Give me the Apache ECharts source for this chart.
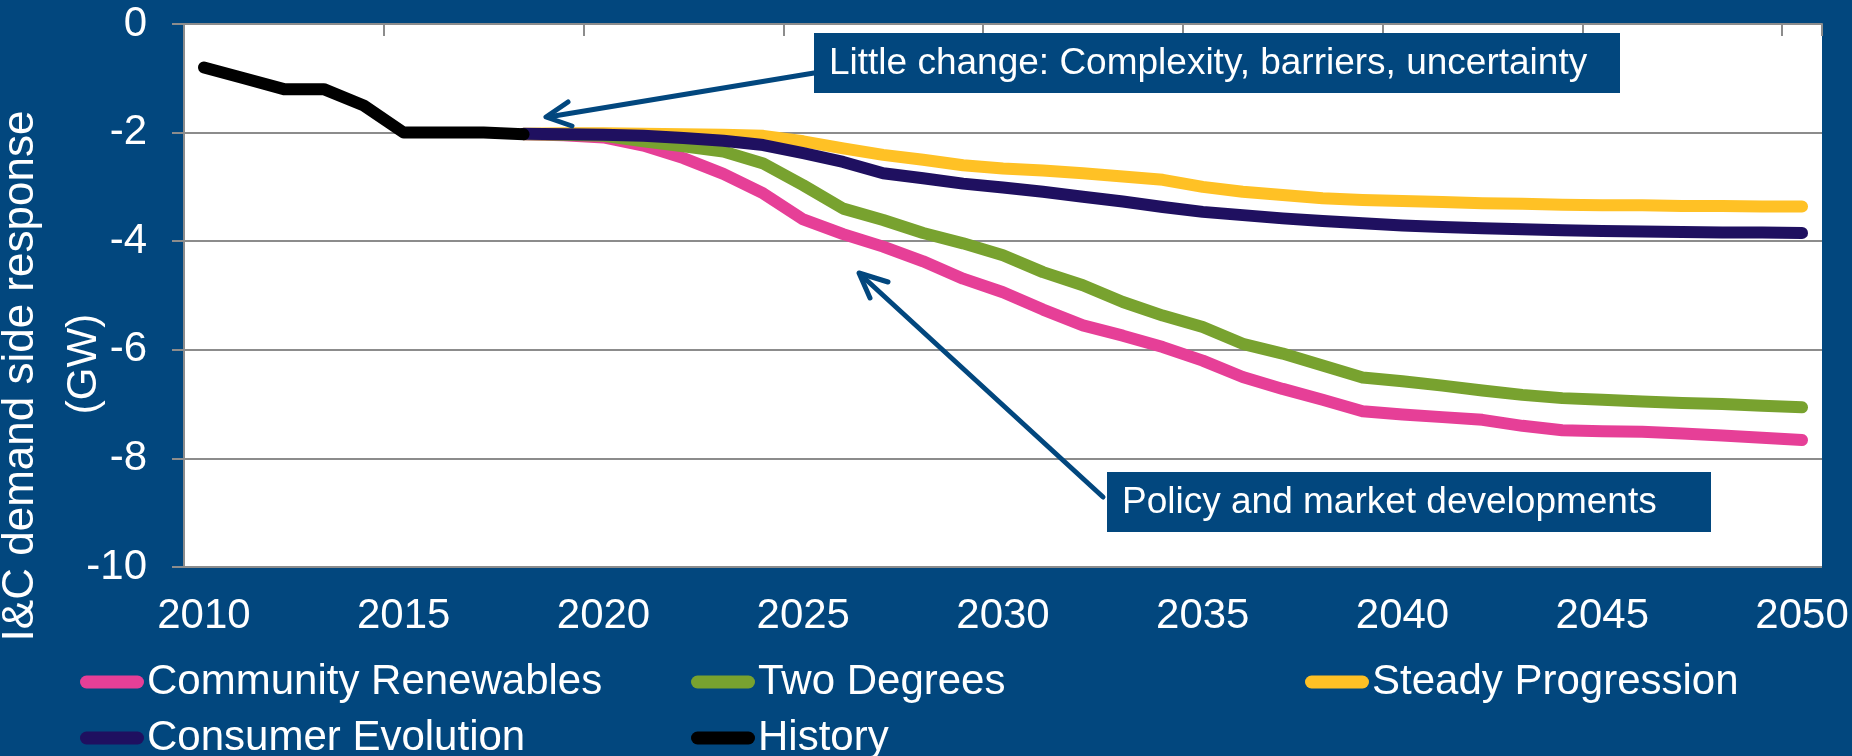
<!DOCTYPE html>
<html>
<head>
<meta charset="utf-8">
<script src="https://cdn.jsdelivr.net/npm/echarts@6/dist/echarts.min.js"></script>
<style>
  html, body { margin: 0; padding: 0; background: #02477e; }
  #chart { width: 1852px; height: 756px; }
</style>
</head>
<body>
<div id="chart"></div>
<script>
const years = ['2010','2011','2012','2013','2014','2015','2016','2017','2018','2019',
  '2020','2021','2022','2023','2024','2025','2026','2027','2028','2029',
  '2030','2031','2032','2033','2034','2035','2036','2037','2038','2039',
  '2040','2041','2042','2043','2044','2045','2046','2047','2048','2049','2050'];

// History 2010-2018
const history = [-0.8, -1.0, -1.2, -1.2, -1.5, -2.0, -2.0, -2.0, -2.03];

// Scenarios 2018-2050
const communityRenewables = [-2.03, -2.05, -2.09, -2.24, -2.47, -2.76, -3.12, -3.6, -3.87, -4.1,
  -4.37, -4.69, -4.94, -5.26, -5.55, -5.74, -5.95, -6.2, -6.5, -6.72,
  -6.92, -7.13, -7.19, -7.24, -7.29, -7.4, -7.48, -7.5, -7.51, -7.54, -7.58, -7.62, -7.66];
const twoDegrees = [-2.03, -2.04, -2.06, -2.16, -2.25, -2.35, -2.57, -2.97, -3.4, -3.61,
  -3.85, -4.04, -4.26, -4.57, -4.81, -5.12, -5.37, -5.58, -5.89, -6.07,
  -6.29, -6.51, -6.58, -6.66, -6.75, -6.83, -6.89, -6.92, -6.95, -6.98, -7.0, -7.03, -7.06];
const steadyProgression = [-2.02, -2.01, -2.01, -2.02, -2.03, -2.04, -2.06, -2.16, -2.29, -2.41,
  -2.5, -2.6, -2.66, -2.7, -2.75, -2.81, -2.87, -3.0, -3.09, -3.15,
  -3.21, -3.24, -3.26, -3.28, -3.3, -3.31, -3.33, -3.34, -3.34, -3.35, -3.35, -3.36, -3.36];
const consumerEvolution = [-2.02, -2.03, -2.04, -2.06, -2.1, -2.15, -2.23, -2.38, -2.54, -2.75,
  -2.84, -2.94, -3.01, -3.09, -3.18, -3.27, -3.37, -3.46, -3.52, -3.58,
  -3.63, -3.67, -3.71, -3.74, -3.76, -3.78, -3.8, -3.81, -3.82, -3.83, -3.84, -3.84, -3.85];

const yTicks = { min: -10, max: 0, interval: 2 };

const BG = '#02477e';
const GRID = '#8c8c8c';
const FONT = "'Liberation Sans', Arial, sans-serif";

function scenario(vals) {
  return new Array(8).fill(null).concat(vals);
}
function histPad(vals) {
  return vals.concat(new Array(years.length - vals.length).fill(null));
}

const ICON = 'path://M6.5,0L57.5,0A6.5,6.5,0,0,1,57.5,13L6.5,13A6.5,6.5,0,0,1,6.5,0Z';

function lineSeries(name, color, data) {
  return {
    name, type: 'line', data, xAxisIndex: 0, showSymbol: false, symbol: 'none',
    connectNulls: false, animation: false,
    lineStyle: { color, width: 12, cap: 'round', join: 'round' },
    itemStyle: { color },
    emphasis: { disabled: true }
  };
}

function legendAt(left, top, name) {
  return {
    orient: 'horizontal', icon: ICON, itemWidth: 64, itemHeight: 13, padding: 0,
    textStyle: { color: '#fff', fontSize: 42, fontFamily: FONT, lineHeight: 38, padding: [0, 0, 0, -2] },
    top, left, data: [name], selectedMode: false
  };
}

const chart = echarts.init(document.getElementById('chart'));
chart.setOption({
  backgroundColor: BG,
  animation: false,
  grid: { left: 184, right: 30, top: 24, bottom: 189, show: true, backgroundColor: '#ffffff', borderWidth: 0 },
  xAxis: [
    {
      type: 'category', data: years, position: 'bottom', boundaryGap: true,
      axisLine: { show: false }, axisTick: { show: false }, splitLine: { show: false },
      axisLabel: { interval: 4, color: '#fff', fontSize: 42, fontFamily: FONT, margin: 28 }
    },
    {
      type: 'category', data: years, position: 'top', boundaryGap: true,
      axisLine: { show: true, lineStyle: { color: GRID, width: 2 } },
      axisTick: { show: true, inside: true, interval: 4, length: 12, lineStyle: { color: GRID, width: 2 } },
      axisLabel: { show: false }, splitLine: { show: false }
    }
  ],
  yAxis: {
    type: 'value', min: yTicks.min, max: yTicks.max, interval: yTicks.interval,
    axisLine: { show: true, lineStyle: { color: GRID, width: 2 } },
    axisTick: { show: true, length: 12, lineStyle: { color: GRID, width: 2 } },
    splitLine: { show: true, lineStyle: { color: GRID, width: 2 } },
    axisLabel: { color: '#fff', fontSize: 42, fontFamily: FONT, margin: 37 }
  },
  legend: [
    legendAt(80, 661, 'Community Renewables'),
    legendAt(691, 661, 'Two Degrees'),
    legendAt(1305, 661, 'Steady Progression'),
    legendAt(80, 717, 'Consumer Evolution'),
    legendAt(691, 717, 'History')
  ],
  series: [
    lineSeries('Community Renewables', '#e63f97', scenario(communityRenewables)),
    lineSeries('Two Degrees', '#78a22f', scenario(twoDegrees)),
    lineSeries('Steady Progression', '#ffc125', scenario(steadyProgression)),
    lineSeries('Consumer Evolution', '#1f1060', scenario(consumerEvolution)),
    lineSeries('History', '#000000', histPad(history))
  ],
  graphic: [
    { type: 'text', z: 100, x: 21, y: 376, rotation: Math.PI / 2,
      style: { text: 'I&C demand side response', fill: '#fff', font: "44px 'Liberation Sans', Arial, sans-serif", align: 'center', verticalAlign: 'middle' } },
    { type: 'text', z: 100, x: 84, y: 364, rotation: Math.PI / 2,
      style: { text: '(GW)', fill: '#fff', font: "42px 'Liberation Sans', Arial, sans-serif", align: 'center', verticalAlign: 'middle' } },
    // Annotation 1
    { type: 'line', z: 100, shape: { x1: 814, y1: 73, x2: 548, y2: 117 },
      style: { stroke: BG, lineWidth: 5, lineCap: 'round' } },
    { type: 'polyline', z: 100, shape: { points: [[568, 102], [546, 117], [572, 126]] },
      style: { stroke: BG, lineWidth: 5, lineCap: 'round', lineJoin: 'round', fill: null } },
    { type: 'rect', z: 101, shape: { x: 814, y: 33, width: 806, height: 60 }, style: { fill: BG } },
    { type: 'text', z: 102, x: 829, y: 64,
      style: { text: 'Little change: Complexity, barriers, uncertainty', fill: '#fff', font: "37px 'Liberation Sans', Arial, sans-serif", align: 'left', verticalAlign: 'middle' } },
    // Annotation 2
    { type: 'line', z: 100, shape: { x1: 1103, y1: 497, x2: 861, y2: 275 },
      style: { stroke: BG, lineWidth: 5, lineCap: 'round' } },
    { type: 'polyline', z: 100, shape: { points: [[888, 282], [859, 273], [870, 298]] },
      style: { stroke: BG, lineWidth: 5, lineCap: 'round', lineJoin: 'round', fill: null } },
    { type: 'rect', z: 101, shape: { x: 1107, y: 472, width: 604, height: 60 }, style: { fill: BG } },
    { type: 'text', z: 102, x: 1122, y: 503,
      style: { text: 'Policy and market developments', fill: '#fff', font: "37px 'Liberation Sans', Arial, sans-serif", align: 'left', verticalAlign: 'middle' } }
  ]
});
</script>
</body>
</html>
